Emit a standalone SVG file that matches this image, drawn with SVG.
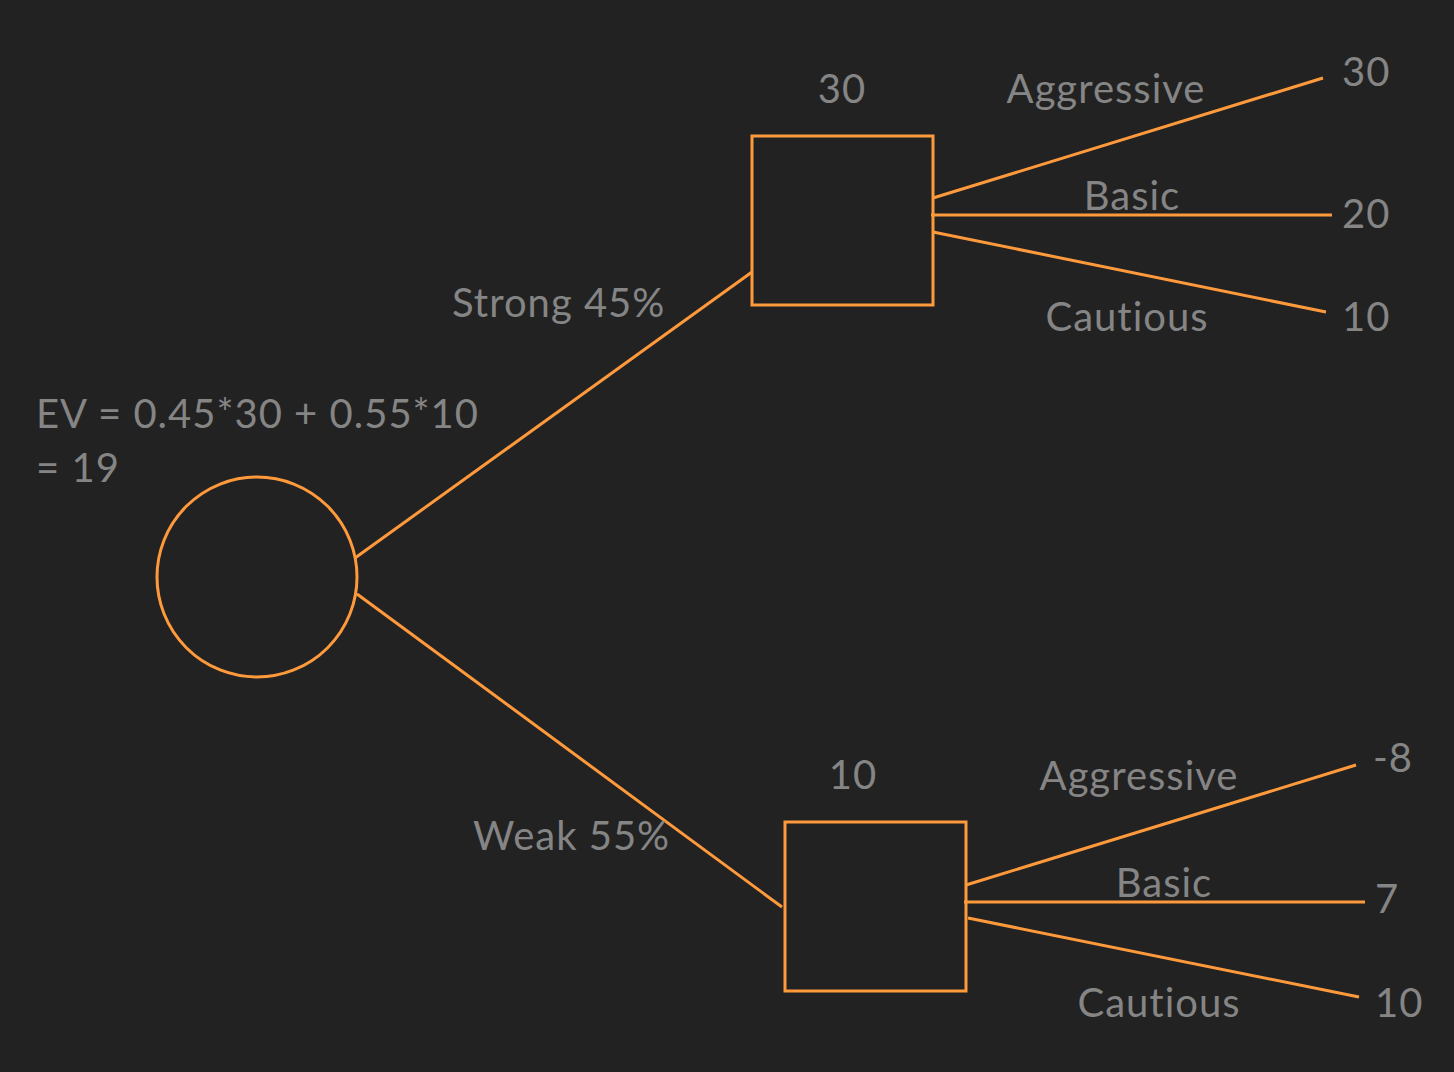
<svg xmlns="http://www.w3.org/2000/svg" width="1454" height="1072" viewBox="0 0 1454 1072">
<style>
.n{fill:none;stroke:#FF9A3C;stroke-width:3}
.e{stroke:#FF9A3C;stroke-width:3;fill:none}
.t{font-family:Lato,"Noto Sans",sans-serif;font-size:40px;letter-spacing:1px;fill:#858585}
.m{text-anchor:middle}
</style>
<rect width="1454" height="1072" fill="#222222"/>
<g id="connectors">
<line class="e" x1="355" y1="558" x2="752" y2="272"/>
<line class="e" x1="357" y1="594" x2="782" y2="907"/>
<line class="e" x1="933" y1="198" x2="1323" y2="78"/>
<line class="e" x1="931" y1="215" x2="1332" y2="215"/>
<line class="e" x1="933" y1="232" x2="1326" y2="312"/>
<line class="e" x1="966" y1="885" x2="1356" y2="765"/>
<line class="e" x1="964" y1="902" x2="1365" y2="902"/>
<line class="e" x1="968" y1="918" x2="1359" y2="997"/>
<text class="t" x="452" y="317">Strong 45%</text>
<text class="t" x="473" y="850">Weak 55%</text>
<text class="t m" x="1106" y="103">Aggressive</text>
<text class="t m" x="1132" y="210">Basic</text>
<text class="t m" x="1127" y="331">Cautious</text>
<text class="t m" x="1139" y="790">Aggressive</text>
<text class="t m" x="1164" y="897">Basic</text>
<text class="t m" x="1159" y="1017">Cautious</text>
</g>
<g id="chance">
<circle class="n" cx="257" cy="577" r="100"/>
<text class="t" x="36" y="428">EV = 0.45*30 + 0.55*10</text>
<text class="t" x="36" y="482">= 19</text>
</g>
<g id="decision-strong">
<rect class="n" x="752" y="136" width="181" height="169"/>
<text class="t m" x="842" y="103">30</text>
</g>
<g id="decision-weak">
<rect class="n" x="785" y="822" width="181" height="169"/>
<text class="t m" x="853" y="789">10</text>
</g>
<g id="outcomes">
<text class="t" x="1342" y="86">30</text>
<text class="t" x="1342" y="228">20</text>
<text class="t" x="1342" y="331">10</text>
<text class="t" x="1373" y="772">-8</text>
<text class="t" x="1375" y="913">7</text>
<text class="t" x="1375" y="1017">10</text>
</g>
</svg>
